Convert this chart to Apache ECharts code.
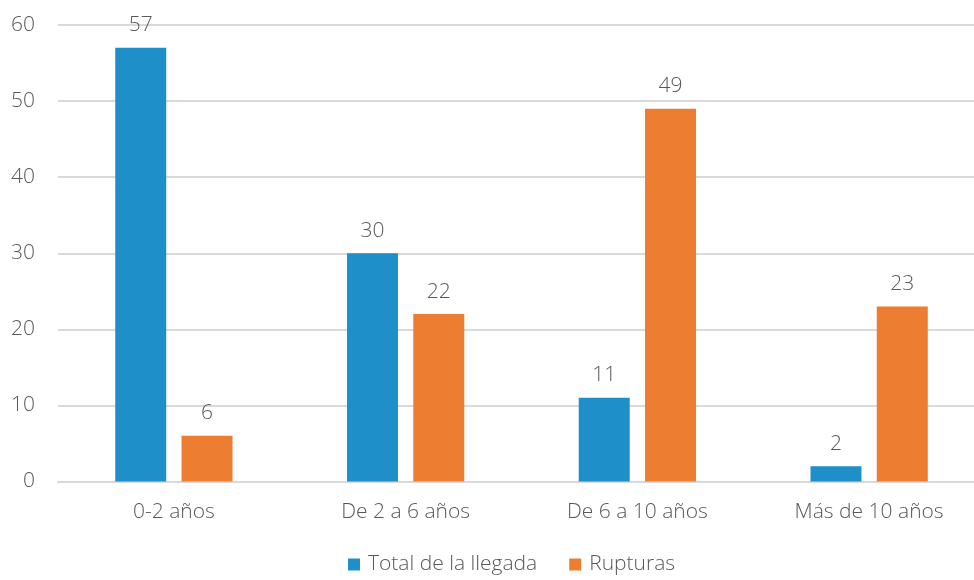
<!DOCTYPE html>
<html>
<head>
<meta charset="utf-8">
<script src="https://cdn.jsdelivr.net/npm/echarts@6/dist/echarts.min.js"></script>
<style>html,body{margin:0;padding:0;background:#fff;overflow:hidden;}#c{width:985px;height:580px;}</style>
</head>
<body>
<div id="c"></div>
<script>
const categories = ['0-2 años', 'De 2 a 6 años', 'De 6 a 10 años', 'Más de 10 años'];
const totalLlegada = [57, 30, 11, 2];
const rupturas = [6, 22, 49, 23];
const seriesNames = ['Total de la llegada', 'Rupturas'];

const FONT = '"Open Sans", sans-serif';
const TXT = '#595959';
const FS = 21;
const FW = 300;
const chart = echarts.init(document.getElementById('c'));
const lbl = {show: true, position: 'top', distance: 12, color: TXT, fontSize: FS, fontWeight: FW, fontFamily: FONT};
chart.setOption({
  animation: false,
  grid: {left: 58, top: 25, right: 0, bottom: 98.5, containLabel: false},
  legend: {
    bottom: 0, left: 343, itemWidth: 12, itemHeight: 12, itemGap: 32, icon: 'rect',
    textStyle: {color: TXT, fontSize: FS, fontWeight: FW, fontFamily: FONT, padding: [0, 0, 0, 3]},
    data: seriesNames
  },
  xAxis: {
    type: 'category', data: categories,
    axisLine: {show: true, lineStyle: {color: '#d9d9d9', width: 2}},
    axisTick: {show: false},
    axisLabel: {color: TXT, fontSize: FS, fontWeight: FW, fontFamily: FONT, margin: 20}
  },
  yAxis: {
    type: 'value', min: 0, max: 60, interval: 10,
    axisLine: {show: false}, axisTick: {show: false},
    splitLine: {lineStyle: {color: '#d9d9d9', width: 2}},
    axisLabel: {color: TXT, fontSize: FS, fontWeight: FW, fontFamily: FONT, margin: 23}
  },
  series: [
    {name: seriesNames[0], type: 'bar', data: totalLlegada, barWidth: 51, barGap: '30%',
     itemStyle: {color: '#1F8FCA'}, label: lbl},
    {name: seriesNames[1], type: 'bar', data: rupturas, barWidth: 51, barGap: '30%',
     itemStyle: {color: '#ED7D31'}, label: lbl}
  ]
});
</script>
</body>
</html>
